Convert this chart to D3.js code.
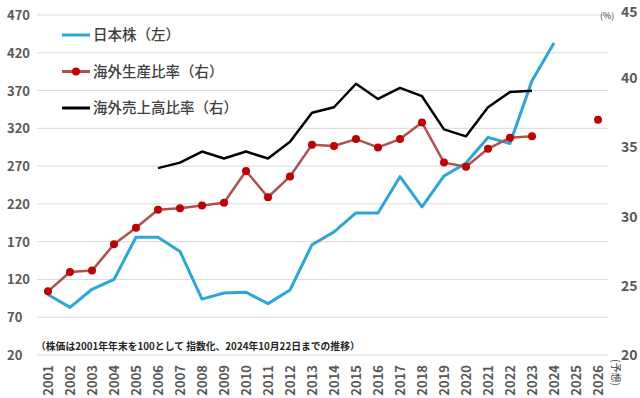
<!DOCTYPE html>
<html>
<head>
<meta charset="utf-8">
<script src="https://cdn.jsdelivr.net/npm/d3@7"></script>
<style>
	body { margin: 0; background: white; }
	text { font-family: "Noto Sans CJK JP", "Noto Sans", sans-serif; }
</style>
</head>
<body>
<div id="chart"></div>
<script>
const years = d3.range(2001, 2027).map(String);
const leftTicks = [20, 70, 120, 170, 220, 270, 320, 370, 420, 470];
const rightTicks = [20, 25, 30, 35, 40, 45];

// 日本株 (left), 2001-2024
const stockYears = d3.range(2001, 2025).map(String);
const stock = [100, 83, 107, 120, 176, 176, 157, 94, 102, 103, 88, 106, 166, 183, 208, 208, 256, 216, 257, 274, 308, 300, 383, 433];

// 海外生産比率 (right), 2001-2023 + 2026 forecast
const prodYears = d3.range(2001, 2024).map(String);
const prod = [24.6, 26.0, 26.1, 28.0, 29.2, 30.5, 30.6, 30.8, 31.0, 33.3, 31.4, 32.9, 35.2, 35.1, 35.6, 35.0, 35.6, 36.8, 33.9, 33.6, 34.9, 35.7, 35.8];
const prodForecast = [{ year: '2026', v: 37.0 }];

// 海外売上高比率 (right), 2006-2023
const salesYears = d3.range(2006, 2024).map(String);
const sales = [33.5, 33.9, 34.7, 34.2, 34.7, 34.2, 35.4, 37.5, 37.9, 39.6, 38.5, 39.3, 38.7, 36.3, 35.8, 37.9, 39.0, 39.1];

const width = 640, height = 398;
const blue = '#2ba6d8', redLine = '#b0504f', redDot = '#c00000';

let svg = d3.select('#chart').append('svg')
	.attr('width', width)
	.attr('height', height);

let x = d3.scaleBand().domain(years).range([37, 609]);
let yL = d3.scaleLinear().domain([20, 470]).range([355, 15]);
let yR = d3.scaleLinear().domain([20, 45]).range([355, 9]);
let cx = d => x(d) + x.bandwidth() / 2;

// gridlines
svg.append('g')
	.selectAll('line')
	.data(leftTicks)
	.join('line')
	.attr('x1', 37)
	.attr('x2', 608)
	.attr('y1', d => yL(d))
	.attr('y2', d => yL(d))
	.style('stroke', '#d9d9d9')
	.style('stroke-width', 1);

// left axis labels
svg.append('g')
	.selectAll('text')
	.data(leftTicks)
	.join('text')
	.attr('x', 7)
	.attr('y', d => Math.max(yL(d) + 5, 19))
	.text(d => d)
	.style('font-size', '13px')
	.style('font-weight', 'bold')
	.style('fill', '#595959');

// right axis labels
svg.append('g')
	.selectAll('text')
	.data(rightTicks)
	.join('text')
	.attr('x', 621)
	.attr('y', d => Math.max(yR(d) + 5, 17))
	.text(d => d)
	.style('font-size', '14px')
	.style('font-weight', 'bold')
	.style('fill', '#595959');

svg.append('text')
	.attr('x', 600)
	.attr('y', 19)
	.text('(%)')
	.style('font-size', '9px')
	.style('fill', '#404040');

// year labels
svg.append('g')
	.selectAll('text')
	.data(years)
	.join('text')
	.attr('transform', d => 'translate(' + (cx(d) + 5) + ',365) rotate(-90)')
	.attr('text-anchor', 'end')
	.text(d => d)
	.style('font-size', '13px')
	.style('font-weight', 'bold')
	.style('fill', '#595959');

svg.append('text')
	.attr('transform', 'translate(612,359) rotate(90)')
	.text('(予想)')
	.style('font-size', '10px')
	.style('fill', '#404040');

// note
svg.append('text')
	.attr('x', 36)
	.attr('y', 350)
	.text('（株価は2001年年末を100として 指数化、2024年10月22日までの推移）')
	.style('font-size', '9.8px')
	.style('font-weight', 'bold')
	.style('fill', '#262626');

// series
let stockLine = d3.line().x((d, i) => cx(stockYears[i])).y(d => yL(d));
svg.append('path')
	.attr('d', stockLine(stock))
	.style('fill', 'none')
	.style('stroke', blue)
	.style('stroke-width', 3)
	.style('stroke-linejoin', 'round');

let salesLine = d3.line().x((d, i) => cx(salesYears[i])).y(d => yR(d));
svg.append('path')
	.attr('d', salesLine(sales))
	.style('fill', 'none')
	.style('stroke', 'black')
	.style('stroke-width', 2.5)
	.style('stroke-linejoin', 'round');

let prodLine = d3.line().x((d, i) => cx(prodYears[i])).y(d => yR(d));
svg.append('path')
	.attr('d', prodLine(prod))
	.style('fill', 'none')
	.style('stroke', redLine)
	.style('stroke-width', 2.5)
	.style('stroke-linejoin', 'round');

svg.append('g')
	.selectAll('circle')
	.data(prod)
	.join('circle')
	.attr('cx', (d, i) => cx(prodYears[i]))
	.attr('cy', d => yR(d))
	.attr('r', 4)
	.style('fill', redDot);

svg.append('circle')
	.attr('cx', cx(prodForecast[0].year))
	.attr('cy', yR(prodForecast[0].v))
	.attr('r', 4)
	.style('fill', redDot);

// legend
let legend = [
	{ name: '日本株（左）', color: blue, dot: false },
	{ name: '海外生産比率（右）', color: redLine, dot: true },
	{ name: '海外売上高比率（右）', color: 'black', dot: false }
];
let lg = svg.append('g');
legend.forEach((d, i) => {
	let ly = 35 + i * 36.5;
	lg.append('line')
		.attr('x1', 62).attr('x2', 90)
		.attr('y1', ly).attr('y2', ly)
		.style('stroke', d.color)
		.style('stroke-width', 3);
	if (d.dot) {
		lg.append('circle')
			.attr('cx', 76).attr('cy', ly).attr('r', 4)
			.style('fill', redDot);
	}
	lg.append('text')
		.attr('x', 93)
		.attr('y', ly + 5)
		.text(d.name)
		.style('font-size', '14.5px')
		.style('font-weight', '500')
		.style('fill', '#404040');
});
</script>
</body>
</html>
